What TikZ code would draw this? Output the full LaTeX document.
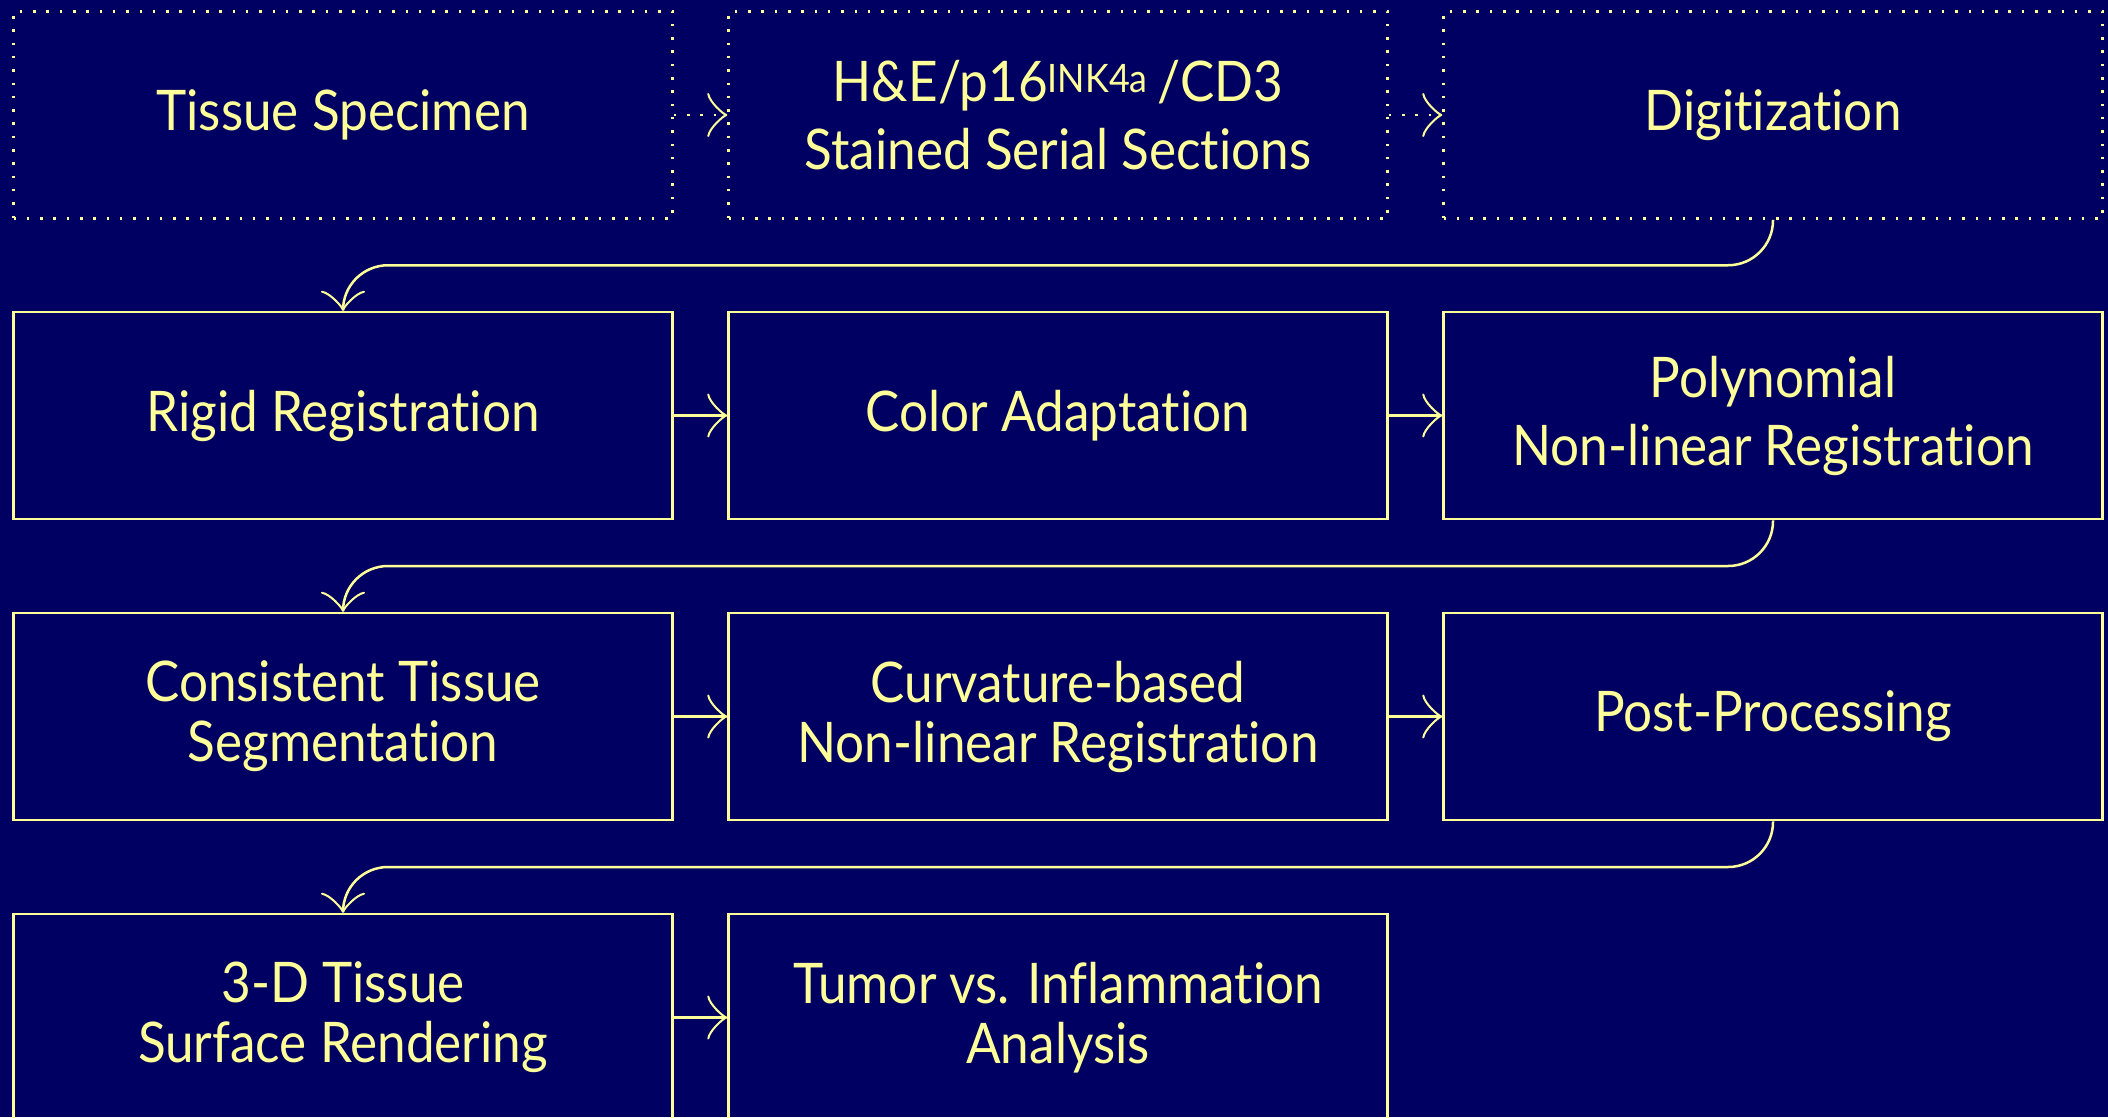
\documentclass[tikz,border=0pt]{standalone}
\usepackage{fontspec}
\setmainfont{Lato}[FakeStretch=0.915, Ligatures=NoCommon]
\usetikzlibrary{arrows.meta,calc}
\definecolor{bg}{HTML}{000062}
\definecolor{ink}{HTML}{FFFF99}

\begin{document}
\begin{tikzpicture}[x=1pt,y=-1pt,
  stepbox/.style={draw=ink, line width=2.5pt, minimum width=659pt, minimum height=207pt,
    text=ink, font=\fontsize{56}{60}\selectfont, align=center, inner sep=0pt},
  dotbox/.style={stepbox, dash pattern=on 2.5pt off 10.8pt},
  link/.style={draw=ink, line width=2.5pt,
    -{Classical TikZ Rightarrow[length=20pt,width=44pt]}},
  dotlink/.style={link, dash pattern=on 2.5pt off 10.8pt},
  turn/.style={link, rounded corners=45pt}
]
% canvas
\fill[bg] (0,0) rectangle (2108,1117);
\useasboundingbox (0,0) rectangle (2108,1117);
\clip (0,0) rectangle (2108,1117);

% row 1: preparation
\node[dotbox] (spec)  at (343,115)  {Tissue Specimen};
\node[dotbox] (stain) at (1058,115) {H\&E/p16\textsuperscript{INK4a}\,/CD3\\[8pt]Stained Serial Sections};
\node[dotbox] (digi)  at (1773,115) {Digitization};

% row 2: registration
\node[stepbox] (rigid) at (343,415.5)  {Rigid Registration};
\node[stepbox] (color) at (1058,415.5) {Color Adaptation};
\node[stepbox] (poly)  at (1773,415.5) {Polynomial\\[8pt]Non-linear Registration};

% row 3: refinement
\node[stepbox] (seg)  at (343,716.5)  {Consistent Tissue\\Segmentation};
\node[stepbox] (curv) at (1058,716.5) {Curvature-based\\Non-linear Registration};
\node[stepbox] (post) at (1773,716.5) {Post-Processing};

% row 4: output
\node[stepbox] (render) at (343,1017.5)  {3-D Tissue\\Surface Rendering};
\node[stepbox] (tumor)  at (1058,1017.5) {Tumor vs. Inflammation\\Analysis};

% connectors within rows
\draw[dotlink] (spec) -- (stain);
\draw[dotlink] (stain) -- (digi);
\draw[link] (rigid) -- (color);
\draw[link] (color) -- (poly);
\draw[link] (seg) -- (curv);
\draw[link] (curv) -- (post);
\draw[link] (render) -- (tumor);

% connectors between rows
\draw[turn] (digi.south) |- ($(digi.south)!0.5!(rigid.north)$) -| (rigid.north);
\draw[turn] (poly.south) |- ($(poly.south)!0.5!(seg.north)$) -| (seg.north);
\draw[turn] (post.south) |- ($(post.south)!0.5!(render.north)$) -| (render.north);
\end{tikzpicture}
\end{document}
